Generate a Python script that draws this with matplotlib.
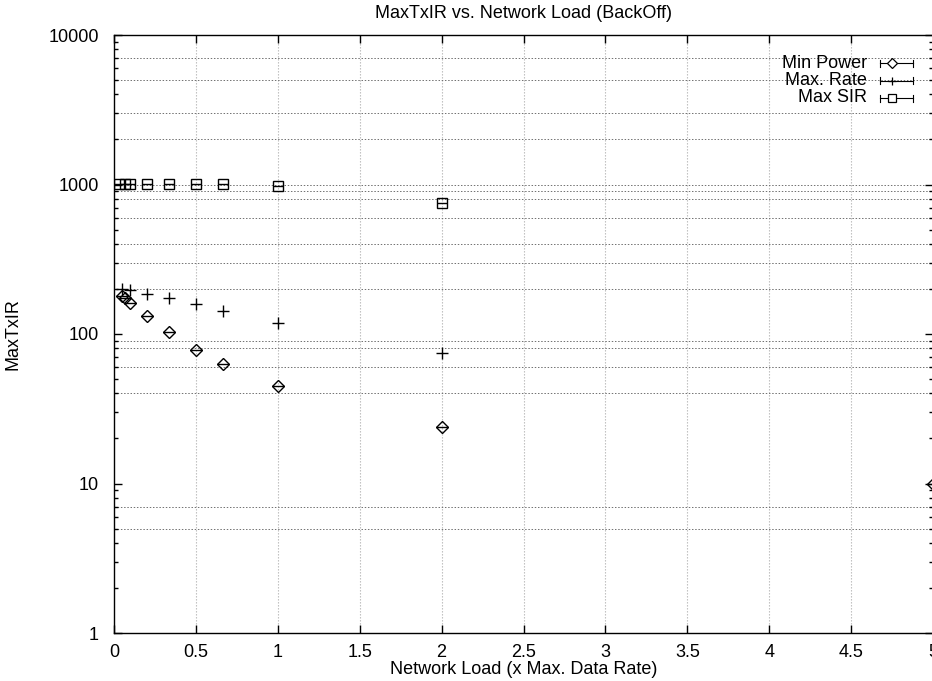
import matplotlib
matplotlib.use("Agg")
import matplotlib.pyplot as plt
from matplotlib.lines import Line2D
from matplotlib.ticker import FixedLocator, NullFormatter, LogLocator

plt.rcParams['font.family'] = ['Liberation Sans', 'DejaVu Sans']

# network load (x max data rate) and MaxTxIR for each scheme
load_power = [0.05, 0.0667, 0.1, 0.2, 0.333, 0.5, 0.667, 1.0, 2.0, 5.0]
txir_power = [180, 174, 162, 132, 103, 78, 63, 45, 24, 10]

load_rate = [0.05, 0.1, 0.2, 0.333, 0.5, 0.667, 1.0, 2.0]
txir_rate = [200, 198, 185, 174, 159, 143, 118, 75]

load_sir = [0.033, 0.0667, 0.1, 0.2, 0.333, 0.5, 0.667, 1.0, 2.0]
txir_sir = [1010, 1010, 1010, 1010, 1010, 1010, 1010, 975, 755]

series_names = ["Min Power", "Max. Rate", "Max SIR"]
x_ticks = [0, 0.5, 1, 1.5, 2, 2.5, 3, 3.5, 4, 4.5, 5]
x_ticklabels = ["0", "0.5", "1", "1.5", "2", "2.5", "3", "3.5", "4", "4.5", "5"]
y_ticks = [1, 10, 100, 1000, 10000]
grid_levels = [5, 7, 40, 60, 80, 90, 200, 300, 400, 600, 800, 900, 1000,
               2000, 3000, 5000, 7000]

FS = 13
W, H = 932, 681
fig = plt.figure(figsize=(W / 100, H / 100), dpi=100)
ax = fig.add_axes([114 / W, (H - 633) / H, 819 / W, 598 / H])

ax.set_yscale('log')
ax.set_xlim(0, 5)
ax.set_ylim(1, 10000)

# grid
for xv in x_ticks[1:-1]:
    ax.axvline(xv, color='#b8b8b8', lw=0.8, ls=(0, (1.2, 1.5)), zorder=0)
for yv in grid_levels:
    ax.axhline(yv, color='#707070', lw=0.7, ls=(0, (1.5, 1.8)), zorder=0)

mk = dict(ls='none', mfc='none', mec='black', color='black', mew=1.0, clip_on=True)
ax.plot(load_power, txir_power, marker='D', ms=6, **mk)
ax.plot(load_power, txir_power, marker='_', ms=8, **mk)
ax.plot(load_rate, txir_rate, marker='+', ms=9, **mk)
ax.plot(load_sir, txir_sir, marker='s', ms=7, **mk)
ax.plot(load_sir, txir_sir, marker='_', ms=7, **mk)

ax.set_xticks(x_ticks)
ax.set_xticklabels(x_ticklabels)
ax.yaxis.set_major_locator(FixedLocator(y_ticks))
ax.set_yticklabels([str(v) for v in y_ticks])
ax.yaxis.set_minor_locator(LogLocator(base=10, subs=range(2, 10)))
ax.yaxis.set_minor_formatter(NullFormatter())

ax.tick_params(which='major', direction='in', length=6, width=1.0,
               top=True, right=True, labelsize=FS, colors='black')
ax.tick_params(axis='y', which='major', pad=11)
ax.tick_params(axis='x', which='major', pad=8)
ax.tick_params(which='minor', direction='in', length=3, width=1.0,
               right=True, left=True)
for s in ax.spines.values():
    s.set_linewidth(1.0)
    s.set_color('black')

ax.set_title("MaxTxIR vs. Network Load (BackOff)", fontsize=FS, pad=12)
ax.set_xlabel("Network Load (x Max. Data Rate)", fontsize=FS, labelpad=0)
ax.set_ylabel("MaxTxIR", fontsize=FS)
ax.yaxis.set_label_coords((22 - 114) / 819, 0.5)

# key: label plus errorbar-style sample
key_markers = [('D', 5), ('+', 6), ('s', 6)]
for i, (name, (m, ms)) in enumerate(zip(series_names, key_markers)):
    yk = 63 + i * 17.5
    fig.text(867 / W, 1 - yk / H, name, ha='right', va='center', fontsize=FS)
    x0, x1, xm = 880 / W, 913 / W, 892 / W
    yf = 1 - yk / H
    cap = 3.5 / H
    fig.add_artist(Line2D([x0, x1], [yf, yf], color='black', lw=0.8))
    fig.add_artist(Line2D([x0, x0], [yf - cap, yf + cap], color='black', lw=0.8))
    fig.add_artist(Line2D([x1, x1], [yf - cap, yf + cap], color='black', lw=0.8))
    fig.add_artist(Line2D([xm], [yf], marker=m, ms=ms, mfc='white',
                          mec='black', mew=0.9, ls='none'))

fig.savefig("out.png", dpi=100)
